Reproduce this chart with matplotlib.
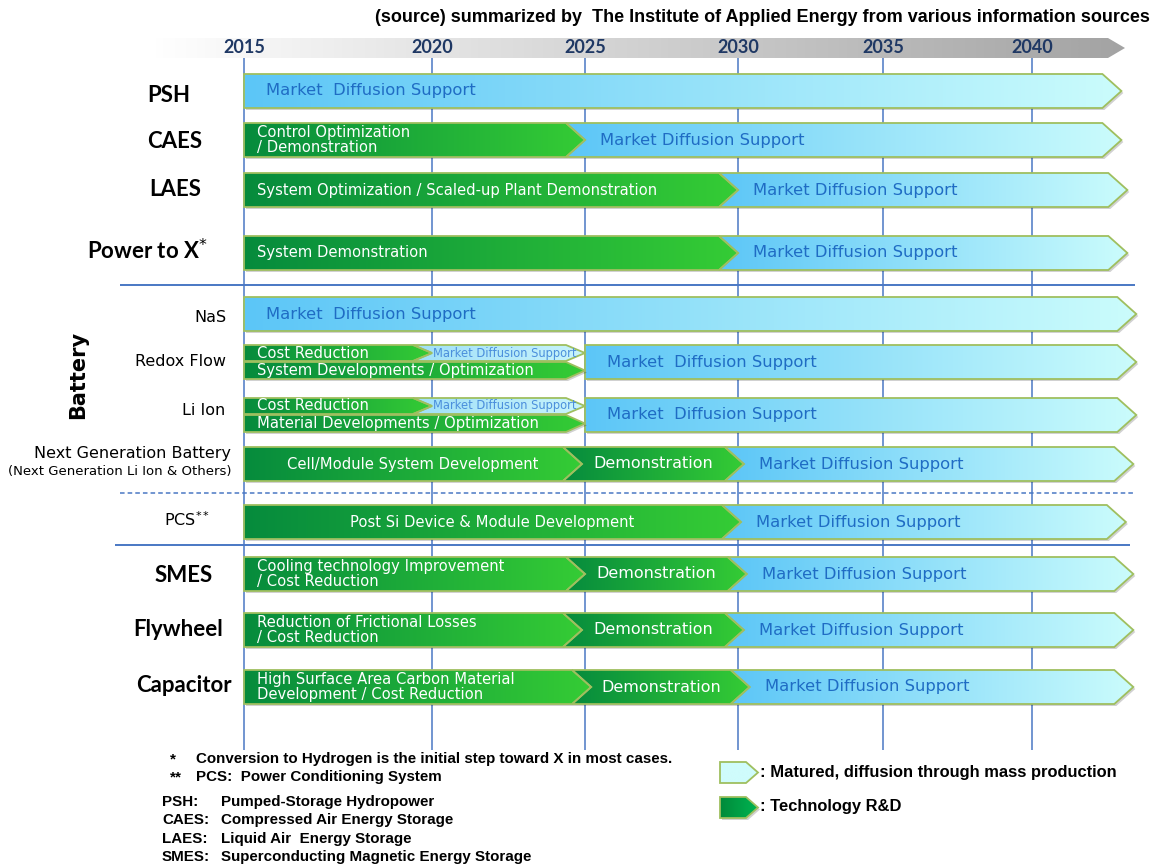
import numpy as np
import matplotlib
matplotlib.use('Agg')
import matplotlib.pyplot as plt
from matplotlib.patches import Polygon
from matplotlib.colors import LinearSegmentedColormap
from matplotlib.transforms import offset_copy, Affine2D

# ---- data ----
year_ticks = [2015, 2020, 2025, 2030, 2035, 2040]

# phases: (start year, end year, kind, text)  kind: R = R&D, M = market, m = small market
psh = [(2015, 2043.0, 'M', 'Market  Diffusion Support')]
caes = [(2015, 2025, 'R', 'Control Optimization\n/ Demonstration'),
        (2025, 2043.0, 'M', 'Market Diffusion Support')]
laes = [(2015, 2030, 'R', 'System Optimization / Scaled-up Plant Demonstration'),
        (2030, 2043.2, 'M', 'Market Diffusion Support')]
p2x = [(2015, 2030, 'R', 'System Demonstration'),
       (2030, 2043.2, 'M', 'Market Diffusion Support')]
nas = [(2015, 2043.5, 'M', 'Market  Diffusion Support')]
redox_top = [(2015, 2020, 'R', 'Cost Reduction'),
             (2020, 2025, 'm', 'Market Diffusion Support')]
redox_bottom = [(2015, 2025, 'R', 'System Developments / Optimization')]
redox = [(2025, 2043.5, 'M', 'Market  Diffusion Support')]
liion_top = [(2015, 2020, 'R', 'Cost Reduction'),
             (2020, 2025, 'm', 'Market Diffusion Support')]
liion_bottom = [(2015, 2025, 'R', 'Material Developments / Optimization')]
liion = [(2025, 2043.5, 'M', 'Market  Diffusion Support')]
nextgen = [(2015, 2024.9, 'R', 'Cell/Module System Development'),
           (2024.9, 2030.2, 'R', 'Demonstration'),
           (2030.2, 2043.4, 'M', 'Market Diffusion Support')]
pcs = [(2015, 2030.1, 'R', 'Post Si Device & Module Development'),
       (2030.1, 2043.15, 'M', 'Market Diffusion Support')]
smes = [(2015, 2025, 'R', 'Cooling technology Improvement\n/ Cost Reduction'),
        (2025, 2030.3, 'R', 'Demonstration'),
        (2030.3, 2043.4, 'M', 'Market Diffusion Support')]
flywheel = [(2015, 2024.9, 'R', 'Reduction of Frictional Losses\n/ Cost Reduction'),
            (2024.9, 2030.2, 'R', 'Demonstration'),
            (2030.2, 2043.4, 'M', 'Market Diffusion Support')]
capacitor = [(2015, 2025.2, 'R', 'High Surface Area Carbon Material\nDevelopment / Cost Reduction'),
             (2025.2, 2030.4, 'R', 'Demonstration'),
             (2030.4, 2043.4, 'M', 'Market Diffusion Support')]

main_labels = ['PSH', 'CAES', 'LAES', 'Power to X$^{*}$', 'SMES', 'Flywheel', 'Capacitor']
battery_labels = ['NaS', 'Redox Flow', 'Li Ion', 'Next Generation Battery']
centered_texts = {'Demonstration', 'Cell/Module System Development',
                  'Post Si Device & Module Development'}

notes = ['Conversion to Hydrogen is the initial step toward X in most cases.',
         'PCS:  Power Conditioning System']
abbr = ['PSH:', 'CAES:', 'LAES:', 'SMES:']
abbr_full = ['Pumped-Storage Hydropower', 'Compressed Air Energy Storage',
             'Liquid Air  Energy Storage', 'Superconducting Magnetic Energy Storage']
source = '(source) summarized by  The Institute of Applied Energy from various information sources'

# ---- layout ----
W, H = 1161, 867
tick_px = [244, 432, 585, 738, 883, 1032]
TIP = 19
HALF = 17


def fwd(v):
    v = np.asarray(v, dtype=float)
    out = np.interp(v, year_ticks, tick_px)
    s0 = (tick_px[1] - tick_px[0]) / 5
    s1 = (tick_px[-1] - tick_px[-2]) / 5
    out = np.where(v < year_ticks[0], tick_px[0] + (v - year_ticks[0]) * s0, out)
    out = np.where(v > year_ticks[-1], tick_px[-1] + (v - year_ticks[-1]) * s1, out)
    return out


def inv(p):
    p = np.asarray(p, dtype=float)
    out = np.interp(p, tick_px, year_ticks)
    s0 = 5 / (tick_px[1] - tick_px[0])
    s1 = 5 / (tick_px[-1] - tick_px[-2])
    out = np.where(p < tick_px[0], year_ticks[0] + (p - tick_px[0]) * s0, out)
    out = np.where(p > tick_px[-1], year_ticks[-1] + (p - tick_px[-1]) * s1, out)
    return out


fig = plt.figure(figsize=(W / 100, H / 100), dpi=100)
ax = fig.add_axes([0, 0, 1, 1])
ax.set_xscale('function', functions=(fwd, inv))
ax.set_autoscale_on(False)
ax.set_xlim(float(inv(0)), float(inv(W)))
ax.set_ylim(H, 0)
ax.axis('off')

# pixel frame (origin top-left) for the gradient images, so they stay affine
pix = Affine2D().scale(1, -1).translate(0, H)

BLUE_TXT = '#1f6cc4'
EDGE = '#9fbf5f'
LINE = '#4a78c4'


def chevron(x0, x1, y0, y1, notch_at=None, tip=TIP):
    ym = (y0 + y1) / 2
    xa = float(inv(fwd(x1) - tip))
    pts = [(x0, y0), (xa, y0), (x1, ym), (xa, y1), (x0, y1)]
    if notch_at is not None:
        pts.append((notch_at, ym))
    return pts


def grad_fill(pts, c0, c1, z, edge=EDGE, shadow=True, lw=1.3):
    if shadow:
        sh = Polygon(pts, closed=True, facecolor='k', alpha=0.18, lw=0, zorder=z - 0.1,
                     transform=offset_copy(ax.transData, fig=fig, x=2, y=-2, units='dots'))
        ax.add_patch(sh)
    poly = Polygon(pts, closed=True, facecolor='none', edgecolor=edge if edge else 'none',
                   lw=lw, zorder=z + 0.2, joinstyle='miter')
    ax.add_patch(poly)
    xs = fwd([p[0] for p in pts])
    ys = [p[1] for p in pts]
    cmap = LinearSegmentedColormap.from_list('g', [c0, c1])
    im = ax.imshow(np.linspace(0, 1, 256)[None, :], cmap=cmap, aspect='auto',
                   extent=(xs.min(), xs.max(), max(ys), min(ys)),
                   interpolation='bilinear', zorder=z)
    im.set_transform(pix)
    im.set_clip_path(poly)


def draw_track(phases, y0, y1, z=2):
    yc = (y0 + y1) / 2
    for i, (s, e, kind, txt) in enumerate(phases):
        if i > 0:
            x0 = float(inv(fwd(s) - TIP))
            pts = chevron(x0, e, y0, y1, notch_at=s)
        else:
            x0 = s
            pts = chevron(s, e, y0, y1)
        if kind == 'R':
            grad_fill(pts, '#068b3d', '#35cc35', z)
            col, size, dx = 'white', 10.6, 13
        elif kind == 'M':
            grad_fill(pts, '#5cc6f7', '#cbfcfc', z)
            col, size, dx = BLUE_TXT, 11.8, (15 if i > 0 else 22)
        else:
            grad_fill(pts, '#9fe0f8', '#c8f4fb', z, shadow=False)
            col, size, dx = '#4b8fdc', 8.3, 1
        if txt in centered_texts:
            xc = float(inv((fwd(x0) + fwd(e)) / 2))
            ax.annotate(txt, (xc, yc), ha='center', va='center', color=col,
                        fontsize=11.5 if txt == 'Demonstration' else 10.6,
                        fontfamily='DejaVu Sans', zorder=6)
        else:
            ax.annotate(txt, (s, yc), xytext=(dx, 0), textcoords='offset pixels',
                        ha='left', va='center', color=col, fontsize=size,
                        fontfamily='DejaVu Sans', zorder=6, linespacing=1.0)


# top timeline band
band = chevron(float(inv(150)), float(inv(1125)), 38, 58, tip=17)
grad_fill(band, '#ffffff', '#a3a3a3', 1, edge=None, shadow=False)
for yr in year_ticks:
    ax.text(yr, 47.5, str(yr), ha='center', va='center', fontfamily='Lato',
            fontweight='bold', fontsize=13, color='#1f3864', zorder=3)

# grid and separators
ax.vlines(year_ticks, 58, 750, color=LINE, lw=1.1, zorder=0.5)
ax.hlines(285, float(inv(120)), float(inv(1135)), color=LINE, lw=1.4, zorder=0.5)
ax.hlines(493, float(inv(120)), float(inv(1135)), color=LINE, lw=1.1, ls=(0, (3, 2)), zorder=0.5)
ax.hlines(545, float(inv(115)), float(inv(1130)), color=LINE, lw=1.4, zorder=0.5)

# bars
row_y = {'psh': 91, 'caes': 140, 'laes': 190, 'p2x': 253, 'nas': 314, 'redox': 362,
         'liion': 415, 'nextgen': 464, 'pcs': 522, 'smes': 574, 'flywheel': 630,
         'capacitor': 687}
for key, ph in [('psh', psh), ('caes', caes), ('laes', laes), ('p2x', p2x), ('nas', nas),
                ('nextgen', nextgen), ('pcs', pcs), ('smes', smes),
                ('flywheel', flywheel), ('capacitor', capacitor)]:
    y = row_y[key]
    draw_track(ph, y - HALF, y + HALF)
for key, full, top, bot in [('redox', redox, redox_top, redox_bottom),
                            ('liion', liion, liion_top, liion_bottom)]:
    y = row_y[key]
    draw_track(full, y - HALF, y + HALF)
    draw_track(top, y - HALF, y - 1, z=3)
    draw_track(bot, y, y + HALF, z=3)


def T(x, y, s, **kw):
    fig.text(x / W, 1 - y / H, s, **kw)


# row labels
main_pos = [(169, 96, 'center'), (175, 141, 'center'), (175, 190, 'center'),
            (208, 251, 'right'), (184, 575, 'center'), (178, 629, 'center'),
            (184, 686, 'center')]
for lab, (x, y, ha) in zip(main_labels, main_pos):
    T(x, y, lab, ha=ha, va='center', fontfamily='Lato', fontweight='bold', fontsize=16)
bat_pos = [(226, 317), (226, 362), (225, 411), (231, 454)]
for lab, (x, y) in zip(battery_labels, bat_pos):
    T(x, y, lab, ha='right', va='center', fontfamily='DejaVu Sans', fontsize=11.5)
T(231, 471, '(Next Generation Li Ion & Others)', ha='right', va='center',
  fontfamily='DejaVu Sans', fontsize=9.5)
T(210, 520, 'PCS$^{**}$', ha='right', va='center', fontfamily='DejaVu Sans', fontsize=11.5)
T(78, 375, 'Battery', ha='center', va='center', rotation=90, fontfamily='DejaVu Sans',
  fontweight='bold', fontsize=15)

# source
T(1150, 17, source, ha='right', va='center', fontfamily='Liberation Sans',
  fontweight='bold', fontsize=13)

# footnotes
fn = dict(fontfamily='Liberation Sans', fontweight='bold', fontsize=10.9, va='center')
T(170, 759, '*', **fn)
T(196, 759, notes[0], **fn)
T(170, 777, '**', **fn)
T(196, 777, notes[1], **fn)
for i, (a, f) in enumerate(zip(abbr, abbr_full)):
    y = 802 + i * 18.3
    T(162, y, a, **fn)
    T(221, y, f, **fn)

# legend
leg1 = chevron(float(inv(720)), float(inv(758)), 762, 783, tip=12)
grad_fill(leg1, '#cffcfc', '#cffcfc', 2, shadow=False)
leg2 = chevron(float(inv(720)), float(inv(758)), 797, 818, tip=12)
grad_fill(leg2, '#008a3a', '#00b451', 2)
lg = dict(fontfamily='Liberation Sans', fontweight='bold', fontsize=11.9, va='center')
T(760, 772, ': Matured, diffusion through mass production', **lg)
T(760, 807, ': Technology R&D', **lg)

fig.savefig('out.png', dpi=100)
